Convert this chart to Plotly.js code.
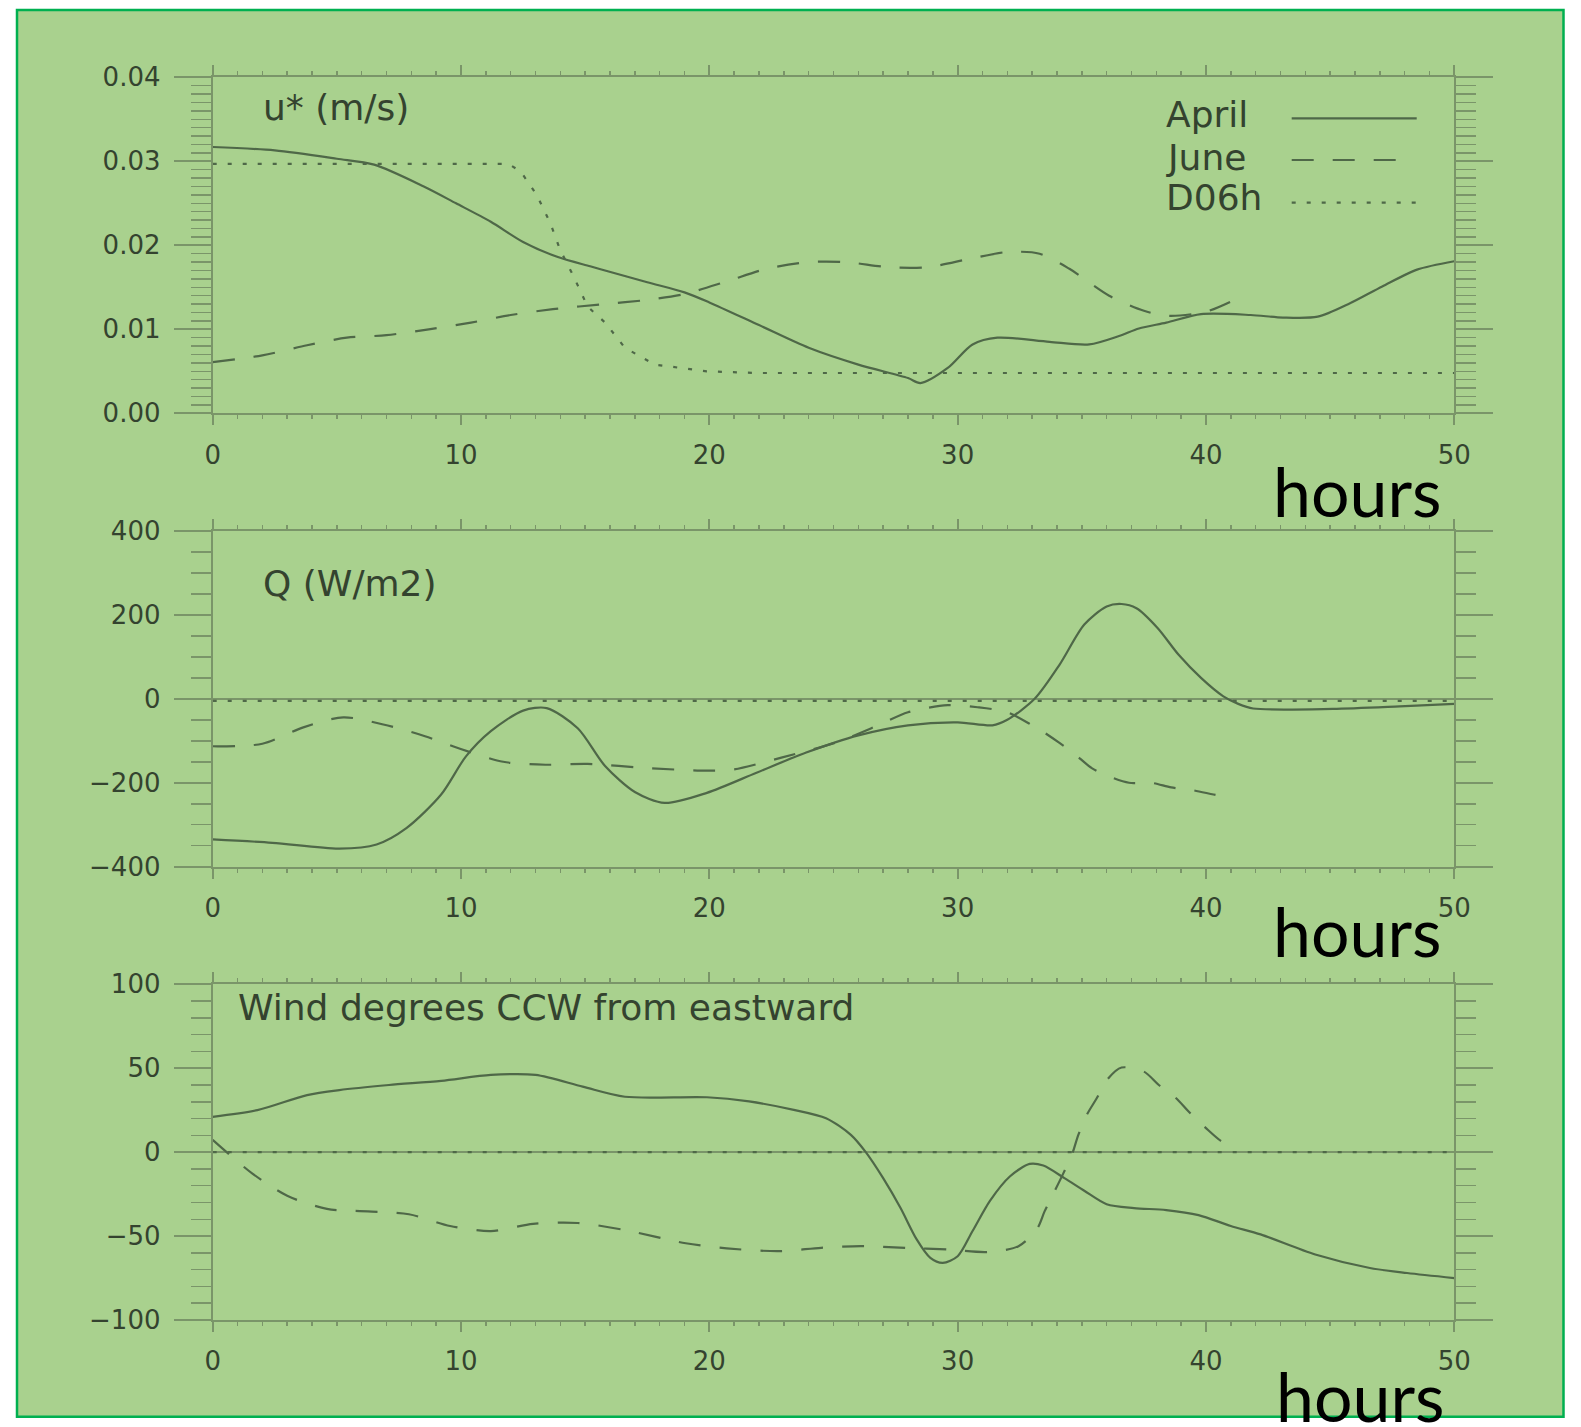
<!DOCTYPE html>
<html>
<head>
<meta charset="utf-8">
<script src="https://cdn.plot.ly/plotly-3.0.1.min.js"></script>
<style>
html,body{margin:0;padding:0;background:#fff;}
#chart{width:1581px;height:1427px;}
</style>
</head>
<body>
<div id="chart"></div>
<script>
// ---------- data (hours, value) ----------
const seriesNames = ["April", "June", "D06h"];

// Panel 1: u* (m/s)
const ustarAprilH = [0, 2.5, 5, 6.5, 8.5, 9.8, 11.2, 12.5, 13.9, 15.2, 15.8, 17.5, 19, 20, 22, 24, 26, 28, 28.5, 29.6, 30.6, 31.6, 33.7, 35.3, 36.5, 37.3, 38.4, 39.8, 41.8, 43.1, 44.5, 45.8, 47.1, 48.5, 50];
const ustarAprilV = [0.0317, 0.0313, 0.0303, 0.0296, 0.0270, 0.0250, 0.0228, 0.0204, 0.0186, 0.0175, 0.0170, 0.0156, 0.0144, 0.0132, 0.0105, 0.0078, 0.0058, 0.0042, 0.0036, 0.0054, 0.0082, 0.0090, 0.0085, 0.0082, 0.0092, 0.0101, 0.0108, 0.0118, 0.0117, 0.0114, 0.0115, 0.0131, 0.0151, 0.0171, 0.0181];
const ustarJuneH = [0, 2, 3.8, 5.4, 7, 8.7, 10.4, 12, 13.7, 15.8, 17.5, 19, 20.7, 22.3, 24, 25.5, 27.2, 28.8, 30.5, 32, 33.3, 34.5, 36.1, 37.5, 38.5, 40, 41];
const ustarJuneV = [0.0061, 0.0069, 0.0081, 0.0090, 0.0093, 0.0100, 0.0108, 0.0117, 0.0124, 0.0130, 0.0135, 0.0142, 0.0157, 0.0172, 0.0180, 0.0180, 0.0174, 0.0174, 0.0184, 0.0192, 0.0190, 0.0172, 0.0140, 0.0122, 0.0116, 0.0121, 0.0133];
const ustarD06hH = [0, 11.9, 12.4, 13.05, 13.6, 14.0, 14.5, 14.8, 15.1, 15.8, 16.6, 17.8, 19.9, 21.9, 50];
const ustarD06hV = [0.0297, 0.0297, 0.0288, 0.0260, 0.0226, 0.0194, 0.0165, 0.0147, 0.0127, 0.0108, 0.0078, 0.0058, 0.0050, 0.0048, 0.0048];

// Panel 2: Q (W/m2)
const qAprilH = [0, 2.4, 5.1, 6.6, 7.8, 9.2, 10.2, 11.2, 12.5, 13.45, 14.7, 15.8, 17, 18.2, 19.9, 21.9, 23.9, 26, 28, 30, 31.4, 32, 33.1, 34.1, 35.1, 36, 36.6, 37.2, 38.05, 38.9, 39.8, 40.7, 41.3, 41.9, 45.1, 47.8, 50];
const qAprilV = [-335, -343, -357, -347, -308, -228, -137, -77, -28, -22, -70, -160, -222, -248, -224, -176, -128, -87, -63, -56, -63, -50, 0, 81, 177, 220, 226, 216, 169, 105, 50, 6, -12, -23, -24, -18, -12];
const qJuneH = [0, 2, 3.65, 5.26, 6.87, 8.55, 9.96, 11.7, 13.4, 15.1, 17.5, 19.9, 21, 22.9, 25.1, 26.8, 28, 29.6, 30.8, 32, 33, 33.4, 34.1, 34.7, 35.4, 36.1, 36.9, 37.8, 38.6, 39.5, 40.3, 41];
const qJuneV = [-113, -107, -68, -44, -61, -89, -119, -150, -157, -155, -165, -171, -168, -140, -104, -63, -32, -15, -20, -32, -63, -77, -105, -131, -165, -185, -200, -200, -211, -218, -228, -236];
const qD06hH = [0, 10, 20, 30, 40, 50];
const qD06hV = [-5, -5, -5, -5, -5, -5];

// Panel 3: Wind degrees CCW from eastward
const windAprilH = [0, 1.8, 3.8, 5.1, 7.1, 9.2, 11.2, 13, 14.9, 16.6, 19.9, 21.6, 23.4, 24.7, 25.7, 26.3, 27, 27.7, 28.35, 28.9, 29.4, 30, 30.6, 31.3, 32.1, 32.9, 33.45, 34.3, 35.1, 36, 37.1, 38.4, 39.7, 41, 42.2, 44.4, 46.6, 48.1, 50];
const windAprilV = [21, 25, 34, 37, 40, 42.5, 46, 46, 39, 33, 32.7, 30.2, 25.2, 20.2, 10.3, 0, -15.5, -33.3, -52, -63, -66, -62, -47, -29, -14.5, -7, -8, -15.5, -23, -31, -33.3, -34.5, -37.5, -44, -49, -61, -69, -72, -75];
const windJuneH = [0, 0.56, 1.6, 3.0, 4.6, 6.25, 7.9, 9.56, 11.2, 12.9, 14.7, 16.6, 19.05, 20.7, 22.8, 24.5, 26.1, 27.9, 29.6, 31.2, 32.45, 33.2, 33.5, 33.9, 34.26, 34.6, 34.86, 35.2, 35.6, 36.07, 36.6, 37.5, 38.1, 38.8, 39.3, 40.0, 40.6, 41.0];
const windJuneV = [7.3, 0, -12.8, -26, -33.8, -35.3, -37, -44, -47, -42.7, -42.2, -46.4, -54.3, -57.3, -59, -57, -56, -57, -58, -59.5, -56, -45.6, -35.3, -23.4, -12.5, -1.6, 10.3, 22.2, 32.1, 44, 50.4, 48, 40, 32.1, 24.2, 14.3, 6.7, 4];
const windD06hH = [0, 10, 20, 30, 40, 50];
const windD06hV = [0, 0, 0, 0, 0, 0];

// axis ticks / labels
const xTickVals = [0, 10, 20, 30, 40, 50];
const panelTitles = ["u* (m/s)", "Q (W/m2)", "Wind degrees CCW from eastward"];
const xAxisLabel = "hours";
const yRanges = [[0, 0.04], [-400, 400], [-100, 100]];
const yDticks = [0.01, 200, 50];
const yMinorDticks = [0.001, 50, 10];
const yTickFormats = [".2f", "d", "d"];

// ---------- styling ----------
const W = 1581, H = 1427;
const px = v => v / W;
const py = v => 1 - v / H;
const curveColor = "#4f6848";
const axisColor = "#7a9569";
const textColor = "#34432f";
const lineStyles = [
  {color: curveColor, width: 2.2, dash: "solid"},
  {color: curveColor, width: 2.2, dash: "22px,19px"},
  {color: curveColor, width: 2.2, dash: "4px,11px"}
];

const xLeft = 212.7, xRight = 1454.3;
const panelsPx = [[77.3, 413.3], [531, 866.7], [984.3, 1320]];

function mk(h, v, i, ax) {
  return {
    x: h, y: v, type: "scatter", mode: "lines", name: seriesNames[i],
    xaxis: ax.x, yaxis: ax.y,
    line: Object.assign({shape: i === 2 ? "linear" : "spline", smoothing: 0.8}, lineStyles[i]),
    hoverinfo: "skip"
  };
}
const axes = [{x: "x", y: "y"}, {x: "x2", y: "y2"}, {x: "x3", y: "y3"}];
const data = [
  mk(ustarAprilH, ustarAprilV, 0, axes[0]),
  mk(ustarJuneH, ustarJuneV, 1, axes[0]),
  mk(ustarD06hH, ustarD06hV, 2, axes[0]),
  mk(qAprilH, qAprilV, 0, axes[1]),
  mk(qJuneH, qJuneV, 1, axes[1]),
  mk(qD06hH, qD06hV, 2, axes[1]),
  mk(windAprilH, windAprilV, 0, axes[2]),
  mk(windJuneH, windJuneV, 1, axes[2]),
  mk(windD06hH, windD06hV, 2, axes[2])
];

const tickFont = {family: "DejaVu Sans", size: 26, color: textColor};
function xAxisDef(i) {
  return {
    domain: [px(xLeft), px(xRight)], anchor: "y" + (i ? i + 1 : ""),
    range: [0, 50], tickvals: xTickVals, ticks: "outside", ticklen: 10, tickwidth: 2, tickcolor: axisColor,
    showline: true, linewidth: 2, linecolor: axisColor, mirror: "allticks",
    minor: {dtick: 1, ticks: "outside", ticklen: 4, tickwidth: 1.5, tickcolor: axisColor, showgrid: false},
    showgrid: false, zeroline: false, tickfont: tickFont, ticklabelstandoff: 7, fixedrange: true
  };
}
function yAxisDef(i) {
  const p = panelsPx[i];
  return {
    domain: [py(p[1]), py(p[0])], anchor: "x" + (i ? i + 1 : ""),
    range: yRanges[i], dtick: yDticks[i], tick0: 0, tickformat: yTickFormats[i],
    ticks: "outside", ticklen: 37, tickwidth: 2, tickcolor: axisColor,
    showline: true, linewidth: 2, linecolor: axisColor, mirror: "allticks",
    minor: {dtick: yMinorDticks[i], ticks: "outside", ticklen: 20, tickwidth: 1.5, tickcolor: axisColor, showgrid: false},
    showgrid: false, zeroline: i > 0, zerolinecolor: axisColor, zerolinewidth: 2,
    tickfont: tickFont, ticklabelstandoff: 8, fixedrange: true
  };
}

const txtFont = {family: "DejaVu Sans", size: 36, color: textColor};
const hoursFont = {family: "Lato", size: 68, color: "#000000"};
const annotations = [
  {text: panelTitles[0], x: px(261), y: py(108), xanchor: "left", yanchor: "middle", font: txtFont},
  {text: panelTitles[1], x: px(261), y: py(583), xanchor: "left", yanchor: "middle", font: txtFont},
  {text: panelTitles[2], x: px(236), y: py(1007), xanchor: "left", yanchor: "middle", font: txtFont},
  {text: seriesNames[0], x: px(1164), y: py(115), xanchor: "left", yanchor: "middle", font: txtFont},
  {text: seriesNames[1], x: px(1164), y: py(157.5), xanchor: "left", yanchor: "middle", font: txtFont},
  {text: seriesNames[2], x: px(1164), y: py(197.5), xanchor: "left", yanchor: "middle", font: txtFont},
  {text: xAxisLabel, x: px(1271), y: py(491), xanchor: "left", yanchor: "middle", font: hoursFont},
  {text: xAxisLabel, x: px(1271), y: py(930), xanchor: "left", yanchor: "middle", font: hoursFont},
  {text: xAxisLabel, x: px(1274), y: py(1395), xanchor: "left", yanchor: "middle", font: hoursFont}
].map(a => Object.assign({xref: "paper", yref: "paper", showarrow: false}, a));

const shapes = [
  {type: "rect", xref: "paper", yref: "paper", x0: px(17), x1: px(1563.5), y0: py(1416.8), y1: py(10), layer: "below",
   fillcolor: "#a9d18e", line: {color: "#00b050", width: 2.5}},
  {type: "line", xref: "paper", yref: "paper", x0: px(1291.7), x1: px(1416.7), y0: py(118.3), y1: py(118.3), line: lineStyles[0]},
  {type: "line", xref: "paper", yref: "paper", x0: px(1291.7), x1: px(1398.5), y0: py(160), y1: py(160), line: lineStyles[1]},
  {type: "line", xref: "paper", yref: "paper", x0: px(1291.7), x1: px(1416.7), y0: py(202.7), y1: py(202.7), line: lineStyles[2]}
];

const layout = {
  width: W, height: H, margin: {l: 0, r: 0, t: 0, b: 0, pad: 0},
  paper_bgcolor: "#ffffff", plot_bgcolor: "rgba(0,0,0,0)", showlegend: false,
  xaxis: xAxisDef(0), xaxis2: xAxisDef(1), xaxis3: xAxisDef(2),
  yaxis: yAxisDef(0), yaxis2: yAxisDef(1), yaxis3: yAxisDef(2),
  annotations: annotations, shapes: shapes
};

Plotly.newPlot("chart", data, layout, {displayModeBar: false, staticPlot: true});
</script>
</body>
</html>
